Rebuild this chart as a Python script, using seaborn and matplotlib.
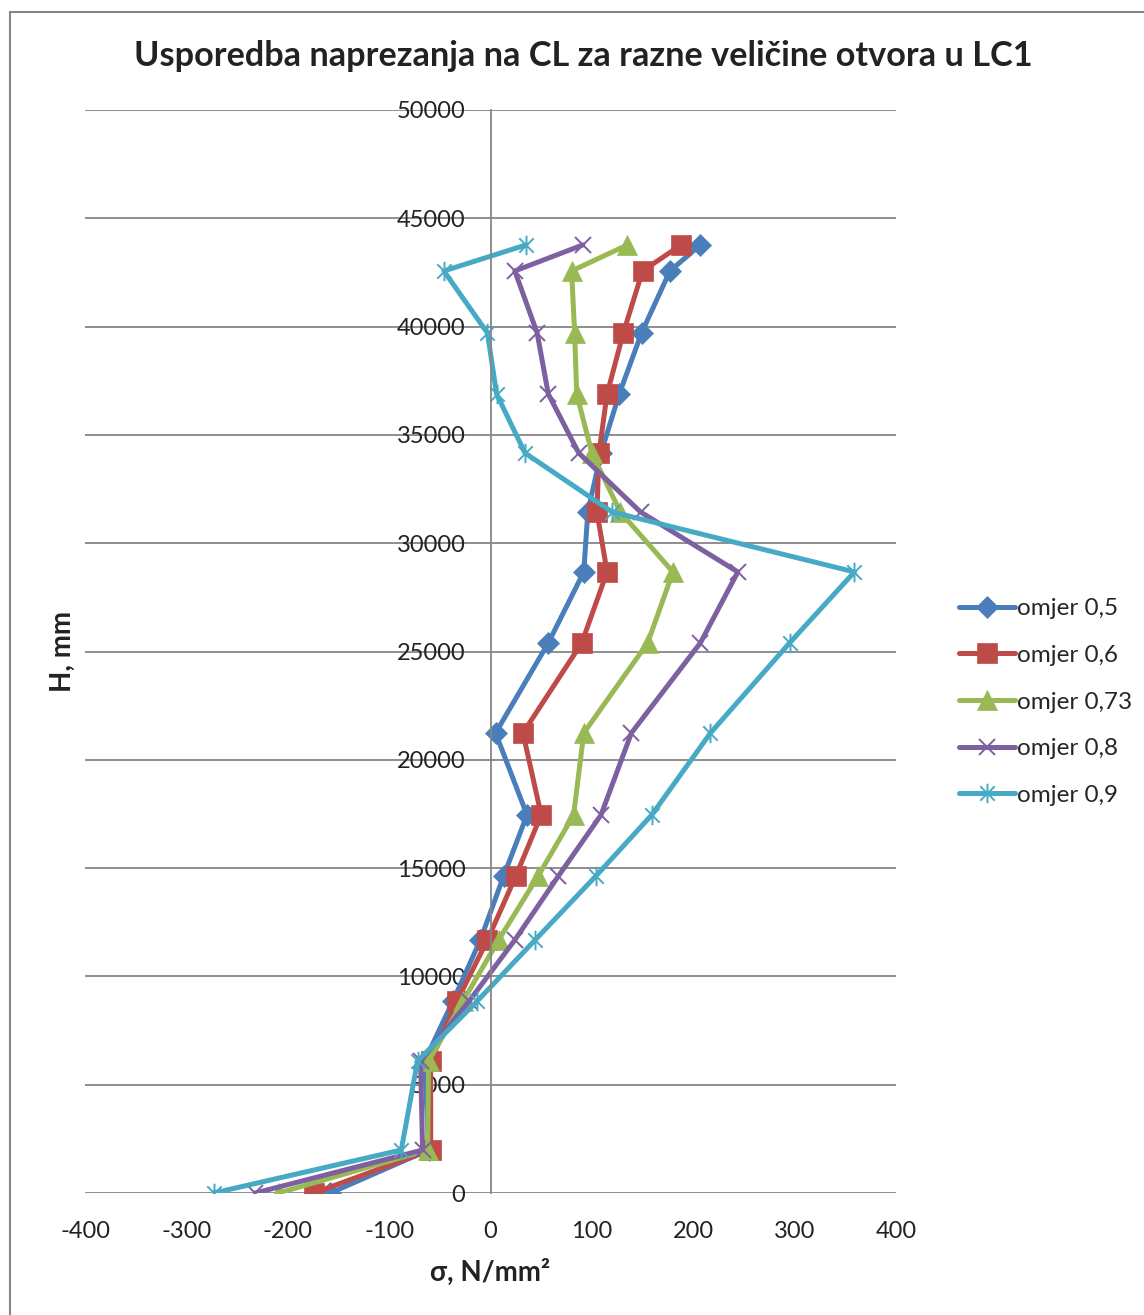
import numpy as np
import matplotlib
matplotlib.use("Agg")
import matplotlib.pyplot as plt
from matplotlib.path import Path
from matplotlib.patches import Rectangle
import seaborn as sns

# podaci (ocitano sa slike)
visina = [0, 1985, 6094, 8865, 11681, 14636, 17452, 21238, 25394, 28672,
          31442, 34166, 36890, 39706, 42569, 43769]

sigma_05 = [-158, -61, -65, -37, -10, 13, 36, 5, 57, 92, 96, 109, 127, 149, 177, 207]
sigma_06 = [-174, -59, -59, -33, -3, 25, 50, 32, 90, 115, 105, 107, 115, 131, 150, 188]
sigma_073 = [-209, -62, -61, -27, 8, 47, 82, 92, 155, 180, 128, 100, 85, 83, 80, 135]
sigma_08 = [-232, -67, -69, -21, 24, 67, 109, 139, 207, 244, 148, 87, 57, 46, 24, 91]
sigma_09 = [-273, -88, -72, -13, 44, 104, 159, 217, 295, 359, 120, 34, 6, -3, -46, 35]

oznake = ["omjer 0,5", "omjer 0,6", "omjer 0,73", "omjer 0,8", "omjer 0,9"]
boje = ["#4A7EBB", "#BE4B48", "#98B954", "#7D60A0", "#46AAC5"]

# Excel "star" marker: X + vertikalna crta
zvijezda = Path([(-1, -1), (1, 1), (-1, 1), (1, -1), (0, -1.35), (0, 1.35)],
                [Path.MOVETO, Path.LINETO, Path.MOVETO, Path.LINETO, Path.MOVETO, Path.LINETO])
markeri = ["D", "s", "^", "x", zvijezda]
velicine = [11, 14, 14, 12, 14]

sns.set_theme(style="white")
plt.rcParams['font.family'] = ['Lato', 'DejaVu Sans']
plt.rcParams['axes.unicode_minus'] = False

fig = plt.figure(figsize=(11.44, 13.15), dpi=100)
ax = fig.add_axes([85 / 1144, 1 - 1193 / 1315, (896 - 85) / 1144, (1193 - 110) / 1315])

serije = [sigma_05, sigma_06, sigma_073, sigma_08, sigma_09]
for s, lab, c, m, ms in zip(serije, oznake, boje, markeri, velicine):
    tanki = (m == "x") or isinstance(m, Path)
    sns.lineplot(x=s, y=visina, ax=ax, orient="y", sort=False, estimator=None,
                 color=c, linewidth=3.6, marker=m, markersize=ms,
                 markeredgecolor=c, markerfacecolor=c,
                 markeredgewidth=1.4 if tanki else 0.5,
                 label=lab)

ax.set_xlim(-400, 400)
ax.set_ylim(0, 50000)
ax.set_xticks(np.arange(-400, 401, 100))
ax.set_yticks(np.arange(0, 50001, 5000))
ax.yaxis.grid(True, color="#868686", linewidth=1.3)
ax.xaxis.grid(False)
ax.set_axisbelow(True)

for k in ["top", "right", "bottom"]:
    ax.spines[k].set_visible(False)
ax.spines["left"].set_position(("data", 0))
ax.spines["left"].set_color("#868686")
ax.spines["left"].set_linewidth(1.3)
ax.tick_params(axis="y", length=0, pad=18, labelsize=17, labelcolor="#222222")
ax.tick_params(axis="x", length=0, pad=20, labelsize=17, labelcolor="#222222")

fig.text(583 / 1144, 1 - 56 / 1315, "Usporedba naprezanja na CL za razne veličine otvora u LC1",
         ha="center", va="center", fontsize=24.7, fontweight="bold", color="#222222")
fig.text(63 / 1144, 1 - 652 / 1315, "H, mm", rotation=90, ha="center", va="center",
         fontsize=20, fontweight="bold", color="#222222")
fig.text(490 / 1144, 1 - 1272 / 1315, "σ, N/mm²", ha="center", va="center",
         fontsize=20, fontweight="bold", color="#222222")

ax.legend(loc="center left", bbox_to_anchor=(947 / 1144, 1 - 702 / 1315),
          bbox_transform=fig.transFigure, frameon=False, fontsize=17.5,
          handlelength=2.3, handletextpad=0.1, labelspacing=1.05, borderpad=0)

# okvir grafikona
fig.patches.append(Rectangle((10 / 1144, -0.05), 1.2, 1 - 12 / 1315 + 0.05,
                             transform=fig.transFigure, fill=False,
                             edgecolor="#868686", linewidth=1.5))

fig.savefig("out.png", dpi=100)
